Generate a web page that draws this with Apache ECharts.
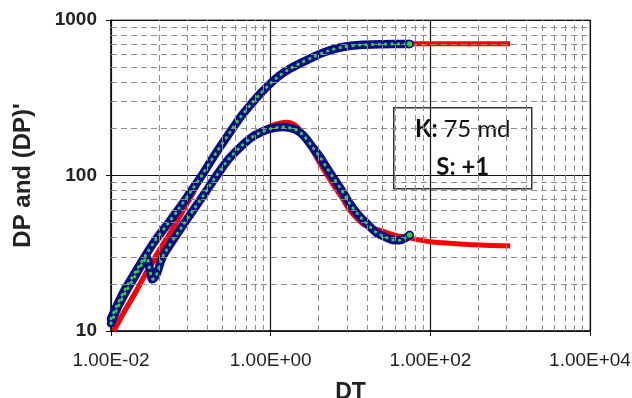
<!DOCTYPE html>
<html>
<head>
<meta charset="utf-8">
<script src="https://cdn.jsdelivr.net/npm/echarts@6/dist/echarts.min.js"></script>
<style>html,body{margin:0;padding:0;background:#fff}#c{width:632px;height:398px}</style>
</head>
<body>
<div id="c"></div>
<script>
// ---- tick labels ----
const xTickLabels = ['1.00E-02', '1.00E+00', '1.00E+02', '1.00E+04'];
const yTickLabels = ['10', '100', '1000'];
const xMinorGrid = [0.04, 0.09, 0.16, 0.25, 0.36, 0.49, 0.64, 0.81,
                    4, 9, 16, 25, 36, 49, 64, 81,
                    400, 900, 1600, 2500, 3600, 4900, 6400, 8100];
const yMinorGrid = [20, 30, 40, 50, 60, 70, 80, 90, 200, 300, 400, 500, 600, 700, 800, 900];

// ---- measured pressure change (DT, DP) ----
const dpData = [
  [0.0100, 12.0], [0.0122, 15.0], [0.0150, 18.5], [0.0218, 25.5], [0.0280, 31.5],
  [0.0355, 38.0], [0.050, 48], [0.069, 60], [0.100, 79], [0.137, 100],
  [0.20, 136], [0.31, 190], [0.42, 238], [0.55, 282], [0.75, 338],
  [1.00, 392], [1.30, 440], [1.73, 485], [2.4, 530], [3.35, 575],
  [4.3, 610], [5.5, 638], [8.0, 670], [13, 690], [25, 698], [55, 702]
];
// ---- measured derivative (DT, DP') ----
const derivData = [
  [0.0100, 11.2], [0.0120, 14.0], [0.0150, 17.5], [0.0200, 22.5], [0.0250, 27.5],
  [0.0280, 29.5], [0.0310, 24.0], [0.0330, 21.5], [0.0370, 23.0], [0.0420, 28.0],
  [0.047, 31.7], [0.077, 46.7], [0.15, 77], [0.21, 100], [0.30, 128],
  [0.42, 153], [0.60, 178], [0.80, 192], [1.00, 200], [1.30, 204.5],
  [1.40, 205], [1.70, 203], [2.1, 196], [2.6, 180], [3.35, 152],
  [4.2, 130], [5.0, 113], [6.0, 98], [7.8, 80], [9.7, 66.5],
  [12.5, 56], [15.8, 49.5], [21, 43], [28, 40], [34, 38.5],
  [41, 38.3], [48, 39.5], [55, 41.4]
];
// ---- model curves ----
const dpModel = [
  [0.0108, 10], [0.015, 13.6], [0.020, 17.5], [0.030, 25.5], [0.040, 33],
  [0.060, 46], [0.090, 66], [0.137, 97], [0.20, 134], [0.31, 188],
  [0.42, 235], [0.55, 280], [0.75, 336], [1.0, 390], [1.3, 437],
  [1.73, 482], [2.4, 528], [3.35, 573], [4.3, 608], [5.5, 636],
  [8, 668], [13, 690], [25, 700], [55, 703], [100, 704], [1000, 704]
];
const derivModel = [
  [0.0108, 10], [0.015, 13.6], [0.020, 17.5], [0.030, 25.5], [0.040, 31],
  [0.060, 40], [0.090, 53], [0.15, 76], [0.22, 98], [0.35, 140],
  [0.50, 166], [0.70, 190], [1.0, 208], [1.3, 217], [1.6, 220],
  [2.0, 212], [2.5, 188], [3.35, 145], [4.2, 118], [5.0, 102],
  [6.0, 88], [7.8, 72], [9.7, 60], [12.5, 52], [15, 48],
  [20, 45.5], [28, 43], [35, 41.5], [50, 40], [100, 37.5], [300, 36], [1000, 35.2]
];

const chart = echarts.init(document.getElementById('c'), null, {renderer: 'canvas'});

const navy = '#0a0a8c', green = '#2fd62f';
const gridDash = {color: '#8c8c8c', width: 1, type: [6, 4]};
function modelSeries(data) {
  return {type: 'line', data: data, showSymbol: false, smooth: 0.3, z: 3,
    lineStyle: {color: '#ff0000', width: 5}, silent: true};
}
function dataSeries(data, endMarker) {
  const last = data.length - 1;
  const dotted = data.map(function (p, i) {
    return (endMarker && i === last)
      ? {value: p, symbol: 'circle', symbolSize: 7,
         itemStyle: {color: green, borderColor: navy, borderWidth: 1.5}}
      : p;
  });
  return [
    {type: 'line', data: data, showSymbol: false, smooth: 0.3, z: 4,
      lineStyle: {color: navy, width: 8.5, cap: 'round', join: 'round'}, silent: true},
    {type: 'line', data: dotted, symbol: 'none', showSymbol: true, smooth: 0.3, z: 5,
      lineStyle: {color: green, width: 3, type: [0.5, 6], cap: 'round'}, silent: true}
  ];
}

chart.setOption({
  animation: false,
  backgroundColor: '#ffffff',
  grid: {left: 111, right: 42, top: 20, bottom: 67, show: true, borderColor: '#555', borderWidth: 1,
    containLabel: false, outerBoundsMode: 'none'},
  xAxis: {
    type: 'log', logBase: 100, min: 0.01, max: 10000,
    name: 'DT', nameLocation: 'middle', nameGap: 50,
    nameTextStyle: {fontFamily: 'Liberation Sans', fontWeight: 'bold', fontSize: 23, color: '#222'},
    axisLine: {show: true, lineStyle: {color: '#111', width: 1.5}},
    axisTick: {show: true, length: 5, inside: false, lineStyle: {color: '#111'}},
    axisLabel: {fontFamily: 'Liberation Sans', fontSize: 19, color: '#222', margin: 20,
      formatter: function (v, i) { return xTickLabels[i]; }},
    splitLine: {show: true, lineStyle: {color: '#111', width: 1.2}},
    minorTick: {show: false}, minorSplitLine: {show: false}
  },
  yAxis: {
    type: 'log', logBase: 10, min: 10, max: 1000,
    name: "DP and (DP)'", nameLocation: 'middle', nameGap: 76,
    nameTextStyle: {fontFamily: 'Liberation Sans', fontWeight: 'bold', fontSize: 24, color: '#222'},
    axisLine: {show: true, lineStyle: {color: '#111', width: 1.5}},
    axisTick: {show: true, length: 5, inside: false, lineStyle: {color: '#111'}},
    axisLabel: {fontFamily: 'Liberation Sans', fontWeight: 'bold', fontSize: 19, color: '#222', margin: 14,
      formatter: function (v, i) { return yTickLabels[i]; }},
    splitLine: {show: true, lineStyle: {color: '#111', width: 1.2}},
    minorTick: {show: false}, minorSplitLine: {show: false}
  },
  series: [
    {type: 'line', data: [], z: 1, silent: true,
      markLine: {silent: true, symbol: ['none', 'none'], label: {show: false}, animation: false,
        lineStyle: gridDash,
        data: xMinorGrid.map(v => ({xAxis: v})).concat(yMinorGrid.map(v => ({yAxis: v})))}},
    modelSeries(dpModel),
    modelSeries(derivModel),
    ...dataSeries(dpData, true),
    ...dataSeries(derivData, true)
  ],
  graphic: [{
    type: 'group', left: 393, top: 107, z: 100,
    children: [
      {type: 'rect', shape: {x: 0, y: 0, width: 138, height: 81},
        style: {fill: '#fff', stroke: '#333', lineWidth: 1.5}},
      {type: 'text', x: 69, y: 22, style: {
        text: '{b|K: }{r|75 md}', align: 'center', verticalAlign: 'middle',
        rich: {b: {fontFamily: 'Lato', fontWeight: 'bold', fontSize: 24, fill: '#111'},
               r: {fontFamily: 'Lato', fontSize: 24, fill: '#111'}}}},
      {type: 'text', x: 69, y: 60, style: {
        text: '{b|S: +1}', align: 'center', verticalAlign: 'middle',
        rich: {b: {fontFamily: 'Lato', fontWeight: 'bold', fontSize: 24, fill: '#111'}}}}
    ]
  }]
});
</script>
</body>
</html>
